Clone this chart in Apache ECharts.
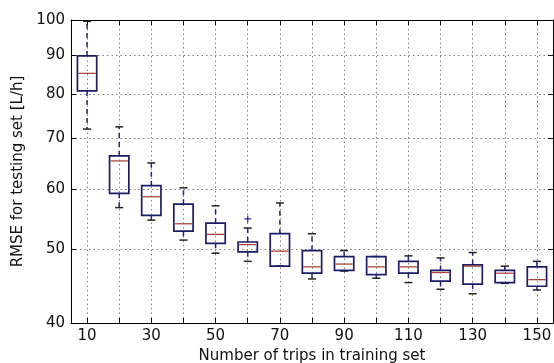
<!DOCTYPE html>
<html>
<head>
<meta charset="utf-8">
<script src="https://cdn.jsdelivr.net/npm/echarts@6/dist/echarts.min.js"></script>
<style>
html,body{margin:0;padding:0;background:#fff;}
#chart{width:554px;height:363px;}
</style>
</head>
<body>
<div id="chart"></div>
<script>
// Categories (number of trips in training set)
const categories = [10,20,30,40,50,60,70,80,90,100,110,120,130,140,150];
// Box statistics (RMSE, L/h)
const whiskerLow  = [71.9, 56.7, 54.6, 51.4, 49.4, 48.2, 47.5, 45.7, 46.8, 45.8, 45.2, 44.3, 43.7, 45.1, 44.2];
const quartile1   = [80.7, 59.2, 55.4, 52.8, 50.9, 49.6, 47.5, 46.5, 46.9, 46.3, 46.5, 45.4, 45.0, 45.2, 44.7];
const medians     = [85.1, 65.3, 58.6, 54.0, 52.3, 50.7, 49.7, 47.4, 47.8, 47.4, 47.4, 46.6, 47.5, 46.5, 45.6];
const quartile3   = [89.7, 66.3, 60.6, 57.3, 54.1, 51.1, 52.4, 49.8, 48.9, 48.9, 48.2, 46.9, 47.7, 46.9, 47.4];
const whiskerHigh = [99.6, 72.4, 64.9, 60.2, 57.0, 53.3, 57.5, 52.4, 49.8, 48.9, 49.0, 48.7, 49.5, 47.5, 48.2];
// Outliers: [category index, value]
const outlierCat = [5];
const outlierVal = [54.8];
// Y tick labels
const yTicks = [40, 50, 60, 70, 80, 90, 100];

const boxData = categories.map((c, i) => [i, whiskerLow[i], quartile1[i], medians[i], quartile3[i], whiskerHigh[i]]);
const outlierData = outlierCat.map((c, i) => [c, outlierVal[i]]);

const FONT = 'DejaVu Sans';
const BOX = '#1c1c66';
const WHISK = '#25258a';
const MED = '#a8463c';

function renderBox(params, api) {
  const i = api.value(0);
  const pLow = api.coord([i, api.value(1)]);
  const pQ1 = api.coord([i, api.value(2)]);
  const pMed = api.coord([i, api.value(3)]);
  const pQ3 = api.coord([i, api.value(4)]);
  const pHigh = api.coord([i, api.value(5)]);
  const band = api.size([1, 0])[0];
  const bw = band * 0.6;
  const cw = band * 0.25;
  const x = pMed[0];
  const children = [];
  children.push({type:'line', shape:{x1:x, y1:pQ3[1], x2:x, y2:pHigh[1]},
    style:{stroke:WHISK, lineWidth:1.5, lineDash:[5,4]}});
  children.push({type:'line', shape:{x1:x, y1:pQ1[1], x2:x, y2:pLow[1]},
    style:{stroke:WHISK, lineWidth:1.5, lineDash:[5,4]}});
  children.push({type:'line', shape:{x1:x-cw/2, y1:pHigh[1], x2:x+cw/2, y2:pHigh[1]},
    style:{stroke:'#222', lineWidth:1.5}});
  children.push({type:'line', shape:{x1:x-cw/2, y1:pLow[1], x2:x+cw/2, y2:pLow[1]},
    style:{stroke:'#222', lineWidth:1.5}});
  children.push({type:'rect', shape:{x:x-bw/2, y:pQ3[1], width:bw, height:pQ1[1]-pQ3[1]},
    style:{fill:'none', stroke:BOX, lineWidth:1.7}});
  children.push({type:'line', shape:{x1:x-bw/2+1, y1:pMed[1], x2:x+bw/2-1, y2:pMed[1]},
    style:{stroke:MED, lineWidth:1.3}});
  return {type:'group', children};
}

function renderFlier(params, api) {
  const p = api.coord([api.value(0), api.value(1)]);
  const s = 3.5;
  return {type:'group', children:[
    {type:'line', shape:{x1:p[0]-s, y1:p[1], x2:p[0]+s, y2:p[1]}, style:{stroke:WHISK, lineWidth:1.2}},
    {type:'line', shape:{x1:p[0], y1:p[1]-s, x2:p[0], y2:p[1]+s}, style:{stroke:WHISK, lineWidth:1.2}}
  ]};
}

const gridLine = {show:true, lineStyle:{color:'#808080', width:1, type:[1.5,3]}};

const chart = echarts.init(document.getElementById('chart'), null, {renderer:'canvas'});
chart.setOption({
  animation:false,
  backgroundColor:'#fff',
  grid:{left:71, right:1, top:20, bottom:40, containLabel:false, outerBoundsMode:'none'},
  xAxis:[{
    type:'category', data:categories, boundaryGap:true, position:'bottom',
    axisLine:{show:true, onZero:false, lineStyle:{color:'#000', width:1}},
    axisTick:{show:true, inside:true, length:5, interval:0, alignWithLabel:true, lineStyle:{color:'#000'}},
    axisLabel:{interval:1, fontSize:15, color:'#111', fontFamily:FONT, margin:6},
    splitLine:Object.assign({interval:0, alignWithLabel:true}, gridLine),
    name:'Number of trips in training set', nameLocation:'middle', nameGap:23,
    nameTextStyle:{fontSize:15, color:'#111', fontFamily:FONT}
  },{
    type:'category', data:categories, boundaryGap:true, position:'top',
    axisLine:{show:true, onZero:false, lineStyle:{color:'#000', width:1}},
    axisTick:{show:true, inside:true, length:5, interval:0, alignWithLabel:true, lineStyle:{color:'#000'}},
    axisLabel:{show:false}, splitLine:{show:false}
  }],
  yAxis:[{
    type:'log', logBase:10, min:40, max:100,
    axisLine:{show:true, onZero:false, lineStyle:{color:'#000', width:1}},
    axisTick:{show:true, inside:true, length:5, customValues:yTicks, lineStyle:{color:'#000'}},
    axisLabel:{customValues:yTicks, fontSize:15, color:'#111', fontFamily:FONT, margin:6},
    splitLine:gridLine,
    minorTick:{show:false}, minorSplitLine:{show:false},
    name:'RMSE for testing set [L/h]', nameLocation:'middle', nameGap:39,
    nameTextStyle:{fontSize:15, color:'#111', fontFamily:FONT}
  },{
    type:'log', logBase:10, min:40, max:100, position:'right',
    axisLine:{show:true, onZero:false, lineStyle:{color:'#000', width:1}},
    axisTick:{show:true, inside:true, length:5, customValues:yTicks, lineStyle:{color:'#000'}},
    axisLabel:{show:false}, splitLine:{show:false}
  }],
  series:[{
    type:'custom', name:'boxes', xAxisIndex:0, yAxisIndex:0,
    renderItem:renderBox, data:boxData, encode:{x:0, y:[1,2,3,4,5]}, clip:false
  },{
    type:'custom', name:'fliers', xAxisIndex:0, yAxisIndex:0,
    renderItem:renderFlier, data:outlierData, encode:{x:0, y:1}
  }]
});
</script>
</body>
</html>
